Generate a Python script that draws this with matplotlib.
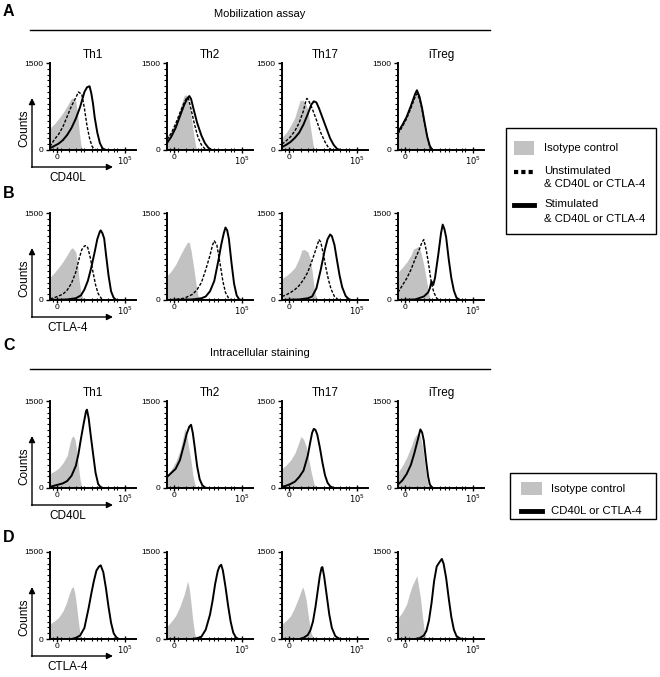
import matplotlib.pyplot as plt
from matplotlib.patches import Rectangle

plt.rcParams['font.family'] = ['Liberation Sans', 'DejaVu Sans']

# x is the position along the x axis in % of the axis length, y is counts
cells = ['Th1', 'Th2', 'Th17', 'iTreg']
row_markers = ['CD40L', 'CTLA-4', 'CD40L', 'CTLA-4']
y_ticks = [0, 1500]
x_tick_pos = [8, 87]
x_tick_labels = ['0', r'$10^5$']

# A: mobilization assay, CD40L
a_iso = {
    'Th1': [(0, 380), (5, 450), (10, 540), (15, 640), (20, 760), (24, 870), (26, 900), (28, 880), (30, 840),
            (32, 640), (34, 320), (36, 80), (38, 10), (40, 0)],
    'Th2': [(0, 240), (5, 330), (10, 480), (15, 700), (18, 850), (20, 940), (22, 950), (24, 900), (27, 700),
            (30, 380), (33, 80), (35, 0)],
    'Th17': [(0, 220), (5, 300), (10, 420), (15, 560), (19, 760), (21, 850), (24, 860), (27, 820), (30, 700),
             (33, 400), (36, 100), (38, 0)],
    'iTreg': [(0, 300), (5, 420), (10, 560), (15, 740), (20, 950), (22, 1000), (25, 900), (28, 700), (31, 450),
              (34, 200), (36, 40), (38, 0)],
}
a_unstim = {
    'Th1': [(0, 60), (5, 180), (10, 270), (15, 400), (20, 580), (25, 760), (30, 900), (33, 1000), (35, 980),
            (37, 960), (40, 720), (43, 420), (46, 200), (49, 60), (52, 10), (56, 0)],
    'Th2': [(0, 180), (5, 290), (10, 450), (15, 640), (20, 820), (23, 900), (25, 890), (28, 700), (32, 440),
            (36, 220), (40, 90), (44, 20), (48, 0)],
    'Th17': [(0, 100), (5, 160), (10, 230), (15, 330), (20, 470), (25, 680), (28, 860), (29, 890), (31, 850),
             (35, 720), (40, 520), (45, 300), (50, 140), (54, 40), (58, 0)],
    'iTreg': [(0, 280), (5, 400), (10, 540), (15, 720), (20, 920), (22, 970), (25, 880), (28, 700), (31, 450),
              (34, 220), (37, 50), (40, 0)],
}
a_stim = {
    'Th1': [(0, 30), (5, 70), (10, 110), (15, 170), (20, 260), (25, 380), (30, 540), (35, 740), (40, 1000),
            (43, 1080), (46, 1100), (48, 980), (50, 800), (52, 560), (55, 300), (58, 120), (61, 30), (65, 0)],
    'Th2': [(0, 120), (5, 230), (10, 380), (15, 580), (20, 780), (24, 900), (26, 930), (28, 880), (31, 700),
            (35, 470), (40, 250), (44, 120), (48, 40), (52, 0)],
    'Th17': [(0, 50), (5, 90), (10, 140), (15, 210), (20, 300), (25, 440), (30, 620), (34, 780), (37, 840),
             (40, 820), (43, 720), (47, 560), (52, 360), (56, 200), (60, 90), (64, 20), (68, 0)],
    'iTreg': [(0, 310), (5, 430), (10, 570), (15, 760), (20, 970), (22, 1030), (25, 920), (28, 720), (31, 470),
              (34, 230), (37, 70), (40, 0)],
}

# B: mobilization assay, CTLA-4
b_iso = {
    'Th1': [(0, 390), (5, 470), (10, 560), (15, 660), (20, 780), (24, 880), (26, 900), (28, 870), (30, 820),
            (32, 620), (34, 330), (36, 120), (38, 40), (42, 10), (45, 0)],
    'Th2': [(0, 420), (5, 500), (10, 610), (15, 760), (20, 900), (24, 1000), (26, 990), (28, 850), (31, 560),
            (34, 250), (36, 80), (38, 0)],
    'Th17': [(0, 370), (5, 420), (10, 480), (15, 560), (20, 720), (23, 860), (26, 870), (30, 830), (33, 700),
             (35, 500), (37, 250), (39, 80), (42, 0)],
    'iTreg': [(0, 480), (5, 560), (10, 650), (15, 770), (18, 880), (21, 900), (24, 930), (27, 800), (30, 600),
              (33, 350), (36, 100), (38, 0)],
}
b_unstim = {
    'Th1': [(0, 20), (5, 40), (10, 70), (15, 100), (20, 170), (25, 290), (30, 480), (34, 720), (37, 870),
            (40, 930), (42, 940), (44, 900), (47, 720), (50, 480), (53, 260), (56, 110), (60, 20), (64, 0)],
    'Th2': [(0, 0), (10, 10), (20, 30), (30, 100), (35, 180), (40, 300), (45, 520), (50, 770), (53, 950),
            (55, 1020), (58, 945), (62, 600), (65, 320), (68, 130), (72, 20), (75, 0)],
    'Th17': [(0, 60), (5, 90), (10, 130), (15, 180), (20, 250), (25, 350), (30, 480), (35, 680), (40, 900),
             (43, 1040), (45, 1000), (48, 800), (51, 560), (54, 350), (57, 190), (61, 60), (65, 10), (68, 0)],
    'iTreg': [(0, 130), (5, 250), (10, 370), (15, 520), (20, 710), (25, 880), (28, 1000), (30, 1040), (33, 850),
              (36, 580), (38, 370), (40, 220), (42, 120), (45, 30), (48, 0)],
}
b_stim = {
    'Th1': [(0, 0), (20, 10), (30, 30), (36, 80), (40, 180), (44, 330), (48, 560), (52, 830), (55, 1050),
            (58, 1180), (59, 1200), (61, 1150), (63, 1060), (65, 800), (68, 430), (71, 150), (74, 40), (77, 0)],
    'Th2': [(0, 0), (30, 10), (40, 30), (45, 60), (50, 150), (55, 330), (60, 700), (63, 950), (66, 1150),
            (68, 1250), (70, 1200), (72, 1050), (75, 640), (78, 280), (81, 80), (84, 10), (87, 0)],
    'Th17': [(0, 0), (20, 10), (30, 30), (35, 60), (40, 200), (45, 520), (50, 880), (53, 1050), (56, 1130),
             (58, 1100), (61, 950), (64, 680), (67, 420), (70, 220), (74, 70), (78, 10), (81, 0)],
    'iTreg': [(0, 0), (20, 10), (30, 60), (35, 130), (37, 200), (39, 320), (41, 260), (43, 380), (47, 800),
              (50, 1150), (52, 1300), (54, 1220), (56, 1080), (59, 700), (62, 380), (65, 160), (68, 40), (72, 0)],
}

# C: intracellular staining, CD40L
c_iso = {
    'Th1': [(0, 250), (5, 290), (10, 340), (15, 430), (20, 560), (23, 760), (25, 870), (27, 900), (29, 840),
            (31, 650), (33, 380), (35, 140), (37, 20), (39, 0)],
    'Th2': [(0, 220), (5, 320), (10, 450), (15, 640), (18, 830), (21, 1030), (23, 900), (25, 720), (28, 460),
            (30, 230), (32, 80), (34, 0)],
    'Th17': [(0, 330), (5, 400), (10, 480), (15, 600), (19, 760), (22, 890), (25, 840), (28, 720), (31, 500),
             (34, 270), (37, 80), (40, 0)],
    'iTreg': [(0, 270), (5, 380), (10, 520), (15, 700), (19, 870), (23, 950), (26, 900), (29, 680), (32, 300),
              (35, 40), (37, 0)],
}
c_stain = {
    'Th1': [(0, 20), (5, 40), (10, 60), (15, 80), (20, 120), (25, 210), (30, 380), (33, 580), (36, 850),
            (39, 1100), (42, 1330), (43, 1350), (45, 1200), (47, 950), (50, 600), (53, 260), (56, 70), (59, 10),
            (62, 0)],
    'Th2': [(0, 190), (5, 260), (10, 330), (15, 480), (20, 760), (23, 940), (26, 1060), (28, 1090), (30, 950),
            (32, 730), (35, 380), (38, 150), (41, 50), (44, 10), (47, 0)],
    'Th17': [(0, 20), (5, 40), (10, 70), (15, 110), (20, 190), (25, 300), (30, 560), (33, 800), (35, 950),
             (37, 1020), (39, 1000), (41, 920), (44, 700), (47, 440), (50, 220), (53, 90), (56, 30), (60, 0)],
    'iTreg': [(0, 60), (5, 130), (10, 240), (15, 400), (19, 600), (23, 830), (25, 950), (26, 1010), (28, 960),
              (30, 820), (33, 430), (35, 200), (37, 60), (40, 0)],
}

# D: intracellular staining, CTLA-4
d_iso = {
    'Th1': [(0, 260), (5, 310), (10, 370), (15, 480), (19, 620), (22, 760), (25, 880), (27, 900), (29, 780),
            (31, 560), (33, 300), (35, 80), (37, 0)],
    'Th2': [(0, 220), (5, 300), (10, 400), (15, 560), (20, 770), (22, 880), (24, 1000), (26, 860), (28, 600),
            (30, 320), (32, 100), (34, 0)],
    'Th17': [(0, 260), (5, 320), (10, 400), (14, 520), (18, 660), (21, 780), (24, 900), (26, 810), (28, 680),
             (31, 350), (33, 150), (35, 60), (38, 0)],
    'iTreg': [(0, 360), (5, 460), (10, 600), (13, 760), (16, 900), (20, 1030), (22, 1090), (24, 900), (26, 720),
              (28, 450), (30, 200), (32, 40), (34, 0)],
}
d_stain = {
    'Th1': [(25, 0), (30, 20), (35, 60), (40, 190), (45, 540), (48, 780), (51, 1000), (54, 1180), (57, 1250),
            (59, 1270), (62, 1150), (65, 880), (68, 560), (71, 280), (74, 100), (77, 30), (80, 0)],
    'Th2': [(30, 0), (35, 15), (40, 40), (45, 160), (50, 420), (53, 660), (56, 950), (59, 1170), (61, 1250),
            (63, 1280), (65, 1180), (68, 900), (71, 580), (74, 300), (77, 110), (80, 30), (83, 0)],
    'Th17': [(20, 0), (25, 20), (30, 70), (33, 150), (36, 300), (39, 560), (42, 880), (44, 1090), (46, 1230),
             (47, 1240), (49, 1080), (52, 750), (55, 420), (58, 190), (62, 50), (66, 10), (69, 0)],
    'iTreg': [(20, 0), (25, 15), (30, 60), (33, 140), (36, 320), (39, 620), (42, 1000), (45, 1250), (48, 1320),
              (51, 1380), (53, 1300), (56, 1050), (59, 700), (62, 380), (65, 160), (68, 50), (72, 10), (75, 0)],
}

GRAY = '#c2c2c2'
DASH = dict(color='black', lw=1.0, linestyle=(0, (2.2, 1.2)))
SOLID = dict(color='black', lw=1.4)

rows = [
    (a_iso, [(a_unstim, DASH), (a_stim, SOLID)]),
    (b_iso, [(b_unstim, DASH), (b_stim, SOLID)]),
    (c_iso, [(c_stain, SOLID)]),
    (d_iso, [(d_stain, SOLID)]),
]

W, H = 660, 677
fig = plt.figure(figsize=(W / 100, H / 100), dpi=100)

panel_left = [50, 167, 282, 398]
row_bottom = [150, 300, 488, 639]
pw, ph = 86, 87
x_minor = [3, 13, 22, 30, 36, 40, 49, 55, 59, 68, 74, 78]

for r, (iso, lines) in enumerate(rows):
    for c, cell in enumerate(cells):
        ax = fig.add_axes([panel_left[c] / W, 1 - row_bottom[r] / H, pw / W, ph / H])
        xs, ys = zip(*iso[cell])
        ax.fill_between(xs, ys, 0, color=GRAY, lw=0, zorder=1)
        for data, style in lines:
            lx, ly = zip(*data[cell])
            ax.plot(lx, ly, zorder=3, **style)
        ax.set_xlim(0, 100)
        ax.set_ylim(0, 1500)
        for s in ['top', 'right']:
            ax.spines[s].set_visible(False)
        for s in ['left', 'bottom']:
            ax.spines[s].set_linewidth(1.4)
        ax.set_yticks(y_ticks, [str(v) for v in y_ticks])
        ax.set_yticks(range(100, 1500, 100), minor=True)
        ax.set_xticks(x_tick_pos, x_tick_labels)
        ax.set_xticks(x_minor, minor=True)
        ax.tick_params(axis='y', which='major', length=3, width=1, labelsize=6, pad=1.5)
        ax.tick_params(axis='y', which='minor', length=2, width=0.8)
        ax.tick_params(axis='x', which='major', direction='inout', length=4, width=1, labelsize=6, pad=1)
        ax.tick_params(axis='x', which='minor', direction='inout', length=2.5, width=0.8)
        ax.patch.set_alpha(0)

# overlay in pixel coordinates for labels, arrows and legends
ov = fig.add_axes([0, 0, 1, 1], zorder=5)
ov.set_xlim(0, W)
ov.set_ylim(H, 0)
ov.axis('off')
ov.patch.set_alpha(0)

for lbl, y in zip(['A', 'B', 'C', 'D'], [11, 193, 345, 537]):
    ov.text(3, y, lbl, fontsize=11.5, fontweight='bold', va='center', ha='left')

for title, y in [('Mobilization assay', 14), ('Intracellular staining', 353)]:
    ov.text(260, y, title, fontsize=8, ha='center', va='center')
    ov.plot([30, 490], [y + 15.5, y + 15.5], color='black', lw=1)

for r in [0, 2]:
    top = row_bottom[r] - ph
    for c, cell in enumerate(cells):
        ov.text(panel_left[c] + pw / 2, top - 8, cell, fontsize=8.5, ha='center', va='center')

for r in range(4):
    b = row_bottom[r]
    cy = b + 17
    arr = dict(arrowstyle='-|>', lw=1, color='black', mutation_scale=9, shrinkA=0, shrinkB=0)
    ov.annotate('', xy=(32, b - 52), xytext=(32, cy + 0.5), arrowprops=arr)
    ov.annotate('', xy=(113, cy), xytext=(31.5, cy), arrowprops=arr)
    ov.text(24, b - 22, 'Counts', rotation=90, fontsize=8.5, ha='center', va='center')
    ov.text(68, b + 28, row_markers[r], fontsize=8.5, ha='center', va='center')

# legend 1
ov.add_patch(Rectangle((506, 128), 150, 106, fill=False, lw=1, ec='black'))
ov.add_patch(Rectangle((514, 141), 20, 14, color=GRAY, lw=0))
ov.text(544, 148, 'Isotype control', fontsize=8.2, va='center')
ov.plot([514, 534], [172, 172], color='black', lw=3, linestyle=(0, (1, 0.75)))
ov.text(544, 171, 'Unstimulated', fontsize=8.2, va='center')
ov.text(544, 184, '& CD40L or CTLA-4', fontsize=8.2, va='center')
ov.plot([514, 534], [205, 205], color='black', lw=3.5)
ov.text(544, 204, 'Stimulated', fontsize=8.2, va='center')
ov.text(544, 219, '& CD40L or CTLA-4', fontsize=8.2, va='center')

# legend 2
ov.add_patch(Rectangle((510, 473), 146, 46, fill=False, lw=1, ec='black'))
ov.add_patch(Rectangle((521, 482), 21, 13, color=GRAY, lw=0))
ov.text(551, 489, 'Isotype control', fontsize=8.2, va='center')
ov.plot([521, 542], [511, 511], color='black', lw=3.5)
ov.text(551, 511, 'CD40L or CTLA-4', fontsize=8.2, va='center')

fig.savefig('out.png', dpi=100)
